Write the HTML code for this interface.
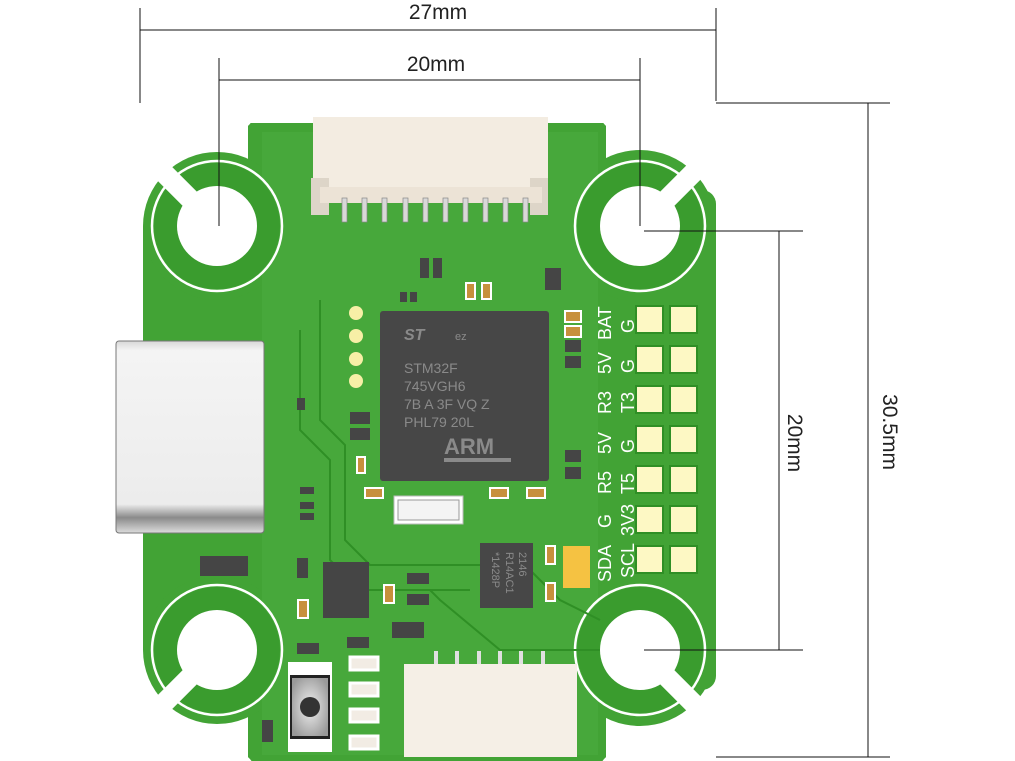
<!DOCTYPE html>
<html><head><meta charset="utf-8"><style>
html,body{margin:0;padding:0;background:#fff;width:1015px;height:761px;overflow:hidden}
svg{display:block}
text{font-family:"Liberation Sans",sans-serif}
</style></head><body>
<svg width="1015" height="761" viewBox="0 0 1015 761" xmlns="http://www.w3.org/2000/svg">
<defs>
<linearGradient id="usb" x1="0" y1="0" x2="0" y2="1">
<stop offset="0" stop-color="#d8d8d8"/><stop offset="0.05" stop-color="#f4f4f4"/><stop offset="0.85" stop-color="#ececec"/><stop offset="0.92" stop-color="#8a8a8a"/><stop offset="1" stop-color="#dcdcdc"/></linearGradient>
<radialGradient id="btn" cx="0.5" cy="0.5" r="0.6"><stop offset="0" stop-color="#f0f0f0"/><stop offset="1" stop-color="#9a9a9a"/></radialGradient>
</defs>
<g stroke="#111" stroke-width="1" fill="none">
<line x1="140" y1="8" x2="140" y2="103"/><line x1="716" y1="8" x2="716" y2="101"/>
<line x1="140" y1="30" x2="716" y2="30"/>
<line x1="219" y1="80" x2="640" y2="80"/>
<line x1="716" y1="103" x2="890" y2="103"/><line x1="716" y1="757" x2="890" y2="757"/>
<line x1="868" y1="103" x2="868" y2="757"/>
<line x1="779" y1="231" x2="779" y2="650"/>
</g>
<text x="438" y="19" font-size="21" fill="#222" text-anchor="middle">27mm</text>
<text x="436" y="71" font-size="21" fill="#222" text-anchor="middle">20mm</text>
<text transform="translate(788,443) rotate(90)" font-size="21" fill="#222" text-anchor="middle">20mm</text>
<text transform="translate(883,432) rotate(90)" font-size="21" fill="#222" text-anchor="middle">30.5mm</text>
<g fill="#42a335">
<rect x="248" y="123" width="358" height="640"/>
<rect x="143" y="226" width="573" height="424"/>
<circle cx="217" cy="226" r="74"/><circle cx="640" cy="226" r="76"/>
<circle cx="217" cy="650" r="74"/><circle cx="640" cy="650" r="76"/>
<rect x="640" y="190" width="76" height="500" rx="14"/>
</g>
<rect x="262" y="132" width="336" height="623" fill="#47a83b"/>
<g fill="#3a9c2e">
<circle cx="217" cy="226" r="63"/><circle cx="640" cy="226" r="63"/>
<circle cx="217" cy="650" r="63"/><circle cx="640" cy="650" r="63"/>
</g>
<g fill="none" stroke="#fff" stroke-width="2.5">
<circle cx="217" cy="226" r="65"/><circle cx="640" cy="226" r="65"/>
<circle cx="217" cy="650" r="65"/><circle cx="640" cy="650" r="65"/>
</g>
<g fill="#fff">
<circle cx="217" cy="226" r="40"/><circle cx="640" cy="226" r="40"/>
<circle cx="217" cy="650" r="40"/><circle cx="640" cy="650" r="40"/>
<circle cx="232" cy="108" r="24"/><circle cx="622" cy="108" r="24"/>
<circle cx="232" cy="775" r="24"/><circle cx="622" cy="775" r="24"/>
</g>
<g stroke="#fff" stroke-width="20">
<line x1="217" y1="226" x2="150" y2="159"/>
<line x1="640" y1="226" x2="707" y2="159"/>
<line x1="217" y1="650" x2="150" y2="717"/>
<line x1="640" y1="650" x2="707" y2="717"/>
</g>
<g stroke="#111" stroke-width="1">
<line x1="219" y1="58" x2="219" y2="226"/><line x1="640" y1="58" x2="640" y2="226"/>
<line x1="644" y1="231" x2="803" y2="231"/><line x1="644" y1="650" x2="803" y2="650"/>
</g>
<g fill="none" stroke="#2f8f25" stroke-width="2">
<path d="M300 330 L300 430 L330 460 L330 560 L360 590 L470 590"/>
<path d="M320 300 L320 420 L345 445 L345 540 L370 565 L480 565"/>
<path d="M520 560 L560 600 L600 620"/>
<path d="M430 590 L440 600 L500 650 L600 650"/>
</g>
<rect x="313" y="117" width="235" height="70" fill="#f3ece1"/>
<rect x="311" y="178" width="18" height="37" fill="#ddd5c8"/>
<rect x="530" y="178" width="18" height="37" fill="#ddd5c8"/>
<rect x="320" y="187" width="222" height="16" fill="#ece3d6"/>
<g fill="#d8d8d8" stroke="#888" stroke-width="0.7">
<rect x="342" y="198" width="5" height="24"/><rect x="362" y="198" width="5" height="24"/><rect x="382" y="198" width="5" height="24"/><rect x="403" y="198" width="5" height="24"/><rect x="423" y="198" width="5" height="24"/><rect x="443" y="198" width="5" height="24"/><rect x="463" y="198" width="5" height="24"/><rect x="483" y="198" width="5" height="24"/><rect x="503" y="198" width="5" height="24"/><rect x="523" y="198" width="5" height="24"/>
</g>
<g fill="#454545">
<rect x="420" y="258" width="9" height="20"/><rect x="433" y="258" width="9" height="20"/>
<rect x="545" y="268" width="16" height="22"/>
<rect x="400" y="292" width="7" height="10"/><rect x="410" y="292" width="7" height="10"/>
<rect x="565" y="340" width="16" height="12"/><rect x="565" y="356" width="16" height="12"/>
<rect x="350" y="412" width="20" height="12"/><rect x="350" y="428" width="20" height="12"/>
<rect x="565" y="450" width="16" height="12"/><rect x="565" y="467" width="16" height="12"/>
<rect x="297" y="398" width="8" height="12"/>
<rect x="300" y="487" width="14" height="7"/><rect x="300" y="502" width="14" height="7"/><rect x="300" y="513" width="14" height="7"/>
<rect x="200" y="556" width="48" height="20"/>
<rect x="297" y="558" width="11" height="20"/>
<rect x="323" y="562" width="46" height="56"/>
<rect x="407" y="573" width="22" height="11"/><rect x="407" y="594" width="22" height="11"/>
<rect x="392" y="622" width="32" height="16"/>
<rect x="347" y="637" width="22" height="11"/>
<rect x="297" y="643" width="22" height="11"/>
<rect x="262" y="720" width="11" height="22"/>
</g>
<g fill="#c7903c" stroke="#fff" stroke-width="2">
<rect x="466" y="283" width="9" height="16"/><rect x="482" y="283" width="9" height="16"/>
<rect x="565" y="311" width="16" height="11"/><rect x="565" y="326" width="16" height="11"/>
<rect x="357" y="457" width="8" height="16"/>
<rect x="365" y="488" width="18" height="10"/><rect x="490" y="488" width="18" height="10"/><rect x="527" y="488" width="18" height="10"/>
<rect x="298" y="600" width="10" height="18"/><rect x="384" y="585" width="10" height="18"/>
<rect x="546" y="546" width="9" height="18"/><rect x="546" y="583" width="9" height="18"/>
</g>
<g fill="#f7efa6"><circle cx="356" cy="313" r="7"/><circle cx="356" cy="336" r="7"/><circle cx="356" cy="359" r="7"/><circle cx="356" cy="381" r="7"/></g>
<rect x="116" y="341" width="148" height="192" rx="3" fill="url(#usb)" stroke="#777" stroke-width="1"/>
<rect x="380" y="311" width="169" height="170" rx="3" fill="#474747"/>
<g fill="#8a8a8a" font-family="Liberation Mono,monospace" font-size="14">
<text x="404" y="340" font-style="italic" font-weight="bold" font-size="16">ST</text>
<text x="455" y="340" font-size="11">ez</text>
<text x="404" y="373">STM32F</text><text x="404" y="391">745VGH6</text>
<text x="404" y="409">7B A 3F VQ Z</text><text x="404" y="427">PHL79 20L</text>
<text x="444" y="454" font-family="Liberation Sans,sans-serif" font-weight="bold" font-size="22">ARM</text>
</g>
<rect x="444" y="458" width="67" height="4" fill="#8a8a8a"/>
<rect x="394" y="496" width="69" height="28" fill="#fff" stroke="#bbb"/>
<rect x="398" y="500" width="61" height="20" fill="#f4f4f4" stroke="#999"/>
<rect x="480" y="543" width="53" height="65" fill="#474747"/>
<text transform="translate(492,552) rotate(90)" font-size="11" fill="#8a8a8a">*1428P</text>
<text transform="translate(506,552) rotate(90)" font-size="11" fill="#8a8a8a">R14AC1</text>
<text transform="translate(519,552) rotate(90)" font-size="11" fill="#8a8a8a">2146</text>
<rect x="563" y="546" width="27" height="42" fill="#f5c242"/>
<g fill="#fdf8c4" stroke="#2f8f25" stroke-width="2">
<rect x="636" y="306" width="27" height="27"/><rect x="670" y="306" width="27" height="27"/>
<rect x="636" y="346" width="27" height="27"/><rect x="670" y="346" width="27" height="27"/>
<rect x="636" y="386" width="27" height="27"/><rect x="670" y="386" width="27" height="27"/>
<rect x="636" y="426" width="27" height="27"/><rect x="670" y="426" width="27" height="27"/>
<rect x="636" y="466" width="27" height="27"/><rect x="670" y="466" width="27" height="27"/>
<rect x="636" y="506" width="27" height="27"/><rect x="670" y="506" width="27" height="27"/>
<rect x="636" y="546" width="27" height="27"/><rect x="670" y="546" width="27" height="27"/>
</g>
<g fill="#fff" font-size="18">
<text transform="translate(611,340) rotate(-90)">BAT</text><text transform="translate(634,333) rotate(-90)">G</text>
<text transform="translate(611,374) rotate(-90)">5V</text><text transform="translate(634,373) rotate(-90)">G</text>
<text transform="translate(611,414) rotate(-90)">R3</text><text transform="translate(634,413) rotate(-90)">T3</text>
<text transform="translate(611,454) rotate(-90)">5V</text><text transform="translate(634,453) rotate(-90)">G</text>
<text transform="translate(611,494) rotate(-90)">R5</text><text transform="translate(634,494) rotate(-90)">T5</text>
<text transform="translate(611,528) rotate(-90)">G</text><text transform="translate(634,536) rotate(-90)">3V3</text>
<text transform="translate(611,582) rotate(-90)">SDA</text><text transform="translate(634,578) rotate(-90)">SCL</text>
</g>
<g fill="#f2ece4" stroke="#fff" stroke-width="3">
<rect x="350" y="657" width="28" height="13"/><rect x="350" y="683" width="28" height="13"/>
<rect x="350" y="709" width="28" height="13"/><rect x="350" y="736" width="28" height="13"/>
</g>
<rect x="288" y="662" width="44" height="90" fill="#fff"/>
<rect x="290" y="675" width="40" height="64" fill="#222"/>
<rect x="292" y="678" width="36" height="58" fill="url(#btn)"/>
<circle cx="310" cy="707" r="10" fill="#333"/>
<g fill="#e0e0e0"><rect x="434" y="651" width="4" height="16"/><rect x="455" y="651" width="4" height="16"/><rect x="477" y="651" width="4" height="16"/><rect x="498" y="651" width="4" height="16"/><rect x="519" y="651" width="4" height="16"/><rect x="541" y="651" width="4" height="16"/></g>
<rect x="404" y="664" width="173" height="93" fill="#f5efe6"/>
</svg>
</body></html>
